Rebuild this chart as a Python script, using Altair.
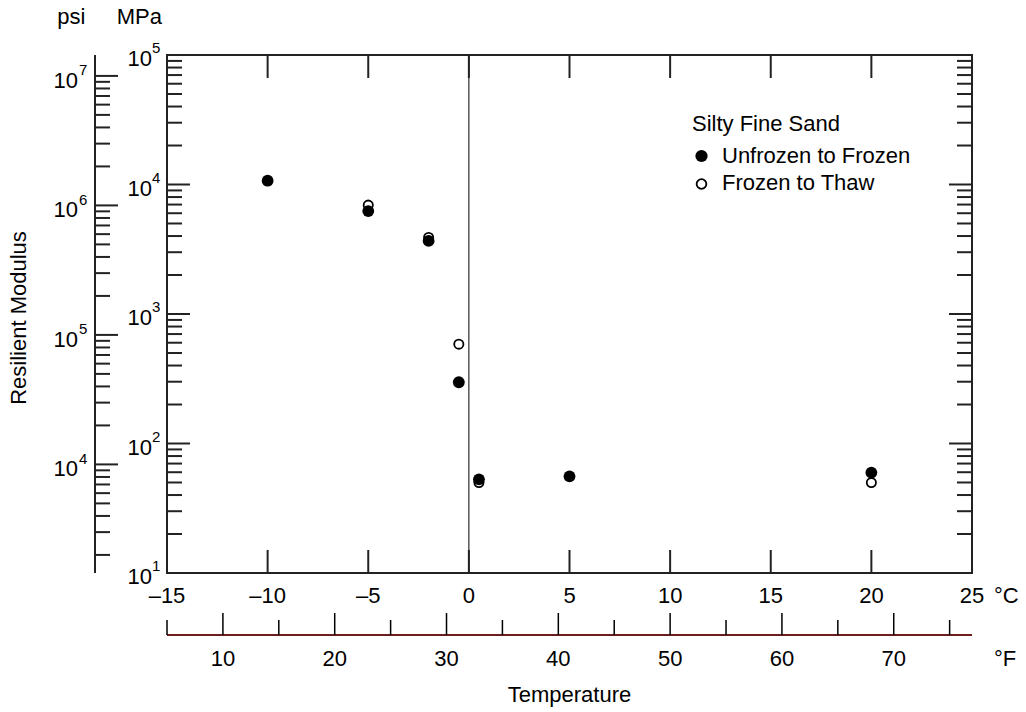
import altair as alt
import pandas as pd

# ---------------- data ----------------
uf_temp = [-10, -5, -2, -0.5, 0.5, 5, 20]
uf_mod = [10700, 6230, 3670, 297, 52.9, 55.8, 59.6]
ft_temp = [-5, -2, -0.5, 0.5, 20]
ft_mod = [6930, 3900, 585, 49.9, 49.9]
series_names = ["Unfrozen to Frozen", "Frozen to Thaw"]
legend_title = "Silty Fine Sand"

c_ticks = [-15, -10, -5, 0, 5, 10, 15, 20, 25]
c_labels = ["\u201315", "\u201310", "\u20135", "0", "5", "10", "15", "20", "25"]
f_ticks = [5, 10, 15, 20, 25, 30, 35, 40, 45, 50, 55, 60, 65, 70, 75]
f_labels = [10, 20, 30, 40, 50, 60, 70]
mpa_exps = [1, 2, 3, 4, 5]
psi_exps = [4, 5, 6, 7]
PSI_PER_MPA = 145.038

# ---------------- layout ----------------
W, H = 805, 518
FONT = "Liberation Sans"
FS = 22
FSE = 15
INK = "#222222"

xs = alt.Scale(domain=[-15, 25], nice=False, zero=False)
ys = alt.Scale(type="log", domain=[10, 1e5], nice=False)


def X(f="t"):
    return alt.X(f"{f}:Q", scale=xs, axis=None)


def Y(f="v"):
    return alt.Y(f"{f}:Q", scale=ys, axis=None)


one = pd.DataFrame({"a": [0]})

# MPa ticks
mpa_major = [10.0 ** e for e in mpa_exps]
mpa_minor = [k * 10.0 ** e for e in mpa_exps[:-1] for k in range(2, 10)]
# psi ticks (converted to MPa for the shared scale)
psi_lo, psi_hi = 10 * PSI_PER_MPA, 1e5 * PSI_PER_MPA
psi_major = [10.0 ** e / PSI_PER_MPA for e in psi_exps]
psi_minor = [k * 10.0 ** e / PSI_PER_MPA for e in range(3, 8) for k in range(2, 10)
             if psi_lo <= k * 10.0 ** e <= psi_hi]

df_mpa_major = pd.DataFrame({"v": mpa_major})
df_mpa_minor = pd.DataFrame({"v": mpa_minor})
df_psi_major = pd.DataFrame({"v": psi_major})
df_psi_minor = pd.DataFrame({"v": psi_minor})

df_mpa_lab = pd.DataFrame({"v": mpa_major, "base": ["10"] * len(mpa_exps),
                           "ex": [str(e) for e in mpa_exps]})
df_psi_lab = pd.DataFrame({"v": psi_major, "base": ["10"] * len(psi_exps),
                           "ex": [str(e) for e in psi_exps]})

df_c = pd.DataFrame({"t": c_ticks, "lab": c_labels})
df_c_inner = df_c[(df_c.t > -15) & (df_c.t < 25)]
df_f = pd.DataFrame({"t": [(f - 32) * 5 / 9 for f in f_ticks], "F": f_ticks})
df_f_major = df_f[df_f.F % 10 == 0]
df_f_minor = df_f[df_f.F % 10 != 0]
df_f_lab = pd.DataFrame({"t": [(f - 32) * 5 / 9 for f in f_labels],
                         "lab": [str(f) for f in f_labels]})

df_uf = pd.DataFrame({"t": uf_temp, "v": uf_mod})
df_ft = pd.DataFrame({"t": ft_temp, "v": ft_mod})


def hrule(df, x0, x1, sw=2, color=INK):
    return alt.Chart(df).mark_rule(color=color, strokeWidth=sw).encode(
        y=Y(), x=alt.value(x0), x2=alt.value(x1))


def vrule(df, y0, y1, sw=2, color=INK):
    return alt.Chart(df).mark_rule(color=color, strokeWidth=sw).encode(
        x=X(), y=alt.value(y0), y2=alt.value(y1))


def ytext(df, field, xpos, dy, align, size):
    return alt.Chart(df).mark_text(font=FONT, fontSize=size, align=align,
                                   baseline="alphabetic", dy=dy, color="black").encode(
        y=Y(), x=alt.value(xpos), text=f"{field}:N")


def xtext(df, ypos, size=FS):
    return alt.Chart(df).mark_text(font=FONT, fontSize=size, align="center",
                                   baseline="alphabetic", color="black").encode(
        x=X(), y=alt.value(ypos), text="lab:N")


def fixed_text(txt, x, y, align="center", size=FS, angle=0, baseline="alphabetic"):
    return alt.Chart(pd.DataFrame({"lab": [txt]})).mark_text(
        font=FONT, fontSize=size, align=align, baseline=baseline, angle=angle,
        color="black").encode(x=alt.value(x), y=alt.value(y), text="lab:N")


layers = []

# zero line
layers.append(vrule(pd.DataFrame({"t": [0]}), 0, H, sw=1, color="black"))

# MPa axis ticks (left, inward) and mirrored on the right
layers += [hrule(df_mpa_major, 0, 23), hrule(df_mpa_minor, 0, 15),
           hrule(df_mpa_major, W, W - 23), hrule(df_mpa_minor, W, W - 15)]
# top and bottom ticks
layers += [vrule(df_c_inner, 0, 23), vrule(df_c_inner, H, H - 23)]

# psi axis
PX = -72
layers.append(alt.Chart(one).mark_rule(color=INK, strokeWidth=2).encode(
    x=alt.value(PX), y=alt.value(0), y2=alt.value(H)))
layers += [hrule(df_psi_major, PX, PX + 23), hrule(df_psi_minor, PX, PX + 15)]

# y labels
layers += [ytext(df_mpa_lab, "base", -15, 11, "right", FS),
           ytext(df_mpa_lab, "ex", -15, -2, "left", FSE),
           ytext(df_psi_lab, "base", -89, 12, "right", FS),
           ytext(df_psi_lab, "ex", -88, -0.5, "left", FSE)]

# x labels (°C)
layers.append(xtext(df_c, H + 30))
layers.append(fixed_text("\u00b0C", W + 22, H + 30, align="left"))

# °F axis
FY = H + 62
layers.append(alt.Chart(one).mark_rule(color="#6e1c1c", strokeWidth=2).encode(
    x=alt.value(0), x2=alt.value(W), y=alt.value(FY)))
layers += [vrule(df_f_major, FY, FY - 22, sw=1.5, color="black"),
           vrule(df_f_minor, FY, FY - 15, sw=1.5, color="black")]
layers.append(xtext(df_f_lab, H + 93))
layers.append(fixed_text("\u00b0F", W + 22, H + 93, align="left"))

# titles
layers.append(fixed_text("Temperature", W / 2, H + 129))
layers.append(fixed_text("Resilient Modulus", -148, H / 2 + 4, angle=270,
                         baseline="middle"))
layers.append(fixed_text("psi", -95.7, -31))
layers.append(fixed_text("MPa", -27.7, -31))

# data points
layers.append(alt.Chart(df_ft).mark_point(shape="circle", size=85, fill="white",
                                          stroke="black", strokeWidth=1.8,
                                          opacity=1, filled=False).encode(x=X(), y=Y()))
layers.append(alt.Chart(df_uf).mark_circle(size=140, color="black",
                                           opacity=1).encode(x=X(), y=Y()))

# legend
LX = 525
layers.append(fixed_text(legend_title, LX, 76, align="left"))
layers.append(alt.Chart(one).mark_circle(size=150, color="black", opacity=1).encode(
    x=alt.value(534.5), y=alt.value(101)))
layers.append(alt.Chart(one).mark_point(shape="circle", size=95, fill="white",
                                        stroke="black", strokeWidth=1.8, opacity=1,
                                        filled=False).encode(
    x=alt.value(534.5), y=alt.value(129)))
layers.append(fixed_text(series_names[0], 555, 108.3, align="left"))
layers.append(fixed_text(series_names[1], 555, 135, align="left"))

chart = alt.layer(*layers).properties(
    width=W, height=H,
    padding={"left": 167, "top": 55, "right": 1026 - 167 - W, "bottom": 712 - 55 - H},
    autosize=alt.AutoSizeParams(type="none"),
    background="white",
).configure_view(stroke=INK, strokeWidth=2)

chart.save("out.html", embed_options={"renderer": "svg", "actions": False})
